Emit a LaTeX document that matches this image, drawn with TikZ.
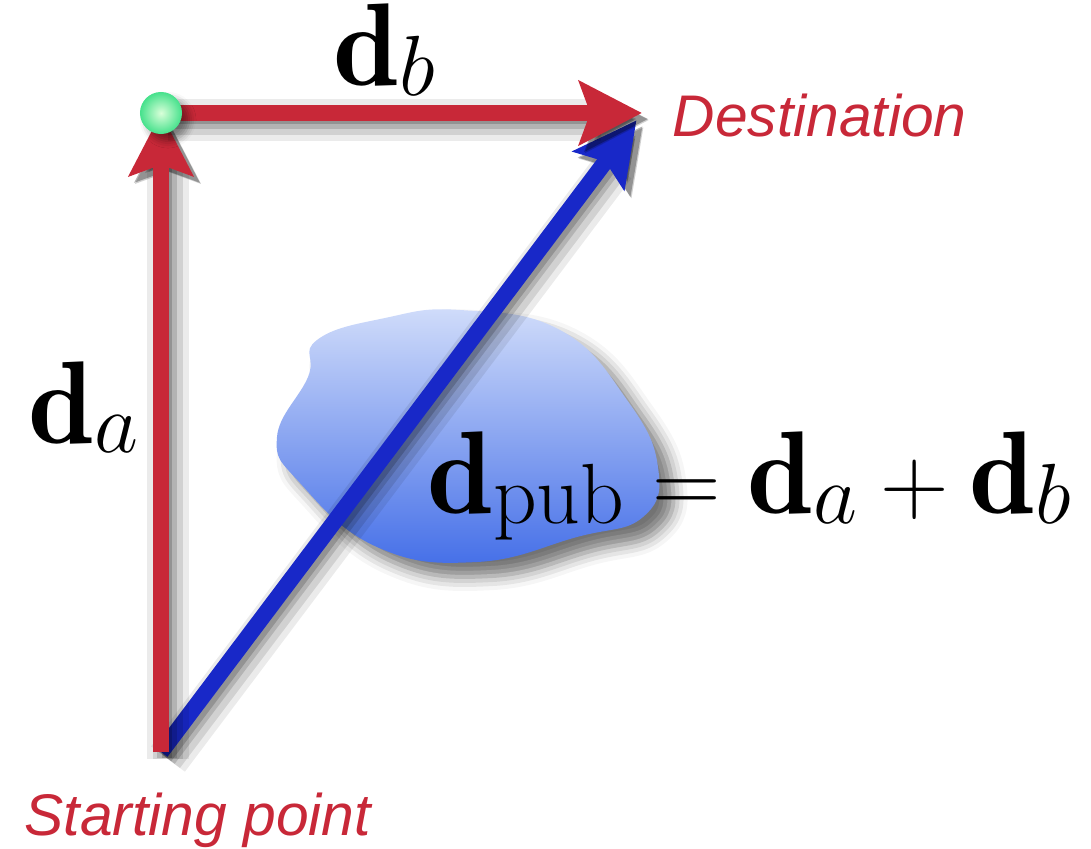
\RequirePackage{fix-cm}
\documentclass[tikz,border=0pt]{standalone}
\usepackage{amsmath}
\usepackage{graphicx}
\usepackage{fontspec}
\usepackage{tikz}
\usetikzlibrary{arrows.meta, calc, shadows, shadows.blur}
\newfontfamily\labelfont{Liberation Sans}
\DeclareMathSizes{20}{20}{18}{12}
\newcommand{\bigmath}[1]{\scalebox{1.35}{$#1$}}
\newcommand{\vd}[1]{\scalebox{1.24}{$\mathbf{d}$}_{\raisebox{0.9pt}[0pt][0pt]{$\scriptstyle #1$}}}
\definecolor{vecred}{RGB}{200,40,56}
\definecolor{vecblue}{RGB}{24,40,200}
\definecolor{blobtop}{RGB}{208,220,250}
\definecolor{blobbottom}{RGB}{70,112,232}
\definecolor{dotgreen}{RGB}{70,225,140}

\begin{document}
\begin{tikzpicture}[
    x=0.01cm, y=-0.01cm,
    vec/.style={line width=4.6pt, -{Stealth[length=17.8pt, width=18pt, inset=3.1pt]}},
    shade/.style={preaction={draw=black, opacity=0.08, line width=12pt, transform canvas={shift={(7,7)}}},
                  preaction={draw=black, opacity=0.11, line width=8.5pt, transform canvas={shift={(7,7)}}},
                  preaction={draw=black, opacity=0.14, line width=5.5pt, transform canvas={shift={(6,6)}}},
                  preaction={draw=black, opacity=0.18, line width=3pt, transform canvas={shift={(6,6)}}}},
    place/.style={font=\labelfont\itshape\fontsize{16.7}{20}\selectfont, text=vecred, inner sep=0pt},
    vlabel/.style={font=\fontsize{20}{24}\selectfont, inner sep=0pt},
    dot/.style={circle, minimum size=0.42cm, inner sep=0pt, inner color=green!15!white, outer color=dotgreen,
                blur shadow={shadow xshift=2pt, shadow yshift=-2pt, shadow blur radius=2pt}}
]
    \useasboundingbox (0,0) rectangle (1091,849);

    % Punkte
    \coordinate (start) at (161,752);
    \coordinate (corner) at (161,113);
    \coordinate (dest) at (642,113);

    % Hindernis
    \path[top color=blobtop, bottom color=blobbottom,
          blur shadow={shadow xshift=4pt, shadow yshift=-4pt, shadow blur radius=4pt, shadow opacity=55}]
        plot[smooth cycle, tension=0.75] coordinates {(317,340) (385,318) (460,310) (560,330) (627,400)
            (658,467) (643,517) (577,537) (477,562) (377,547) (300,483) (277,437) (308,377)};

    % Vektoren
    \draw[vec, shade, draw=vecblue, shorten >=2.6pt] (start) -- (dest);
    \draw[vec, shade, draw=vecred] (start) -- (corner);
    \draw[vec, shade, draw=vecred] (corner) -- (dest);
    \node[dot] (turn) at (corner) {};

    % Beschriftung
    \node[vlabel, anchor=base west] (db) at (333,86) {\bigmath{\vd{b}}};
    \node[vlabel, anchor=base west] (da) at (28,443) {\bigmath{\vd{a}}};
    \node[vlabel, anchor=base west] (sum) at (427,514)
        {\bigmath{\vd{\text{pub}} = \vd{a} + \vd{b}}};
    \node[place, anchor=base west] (destlabel) at (672,137) {Destination};
    \node[place, anchor=base west] (startlabel) at (24,835) {Starting point};
\end{tikzpicture}
\end{document}
